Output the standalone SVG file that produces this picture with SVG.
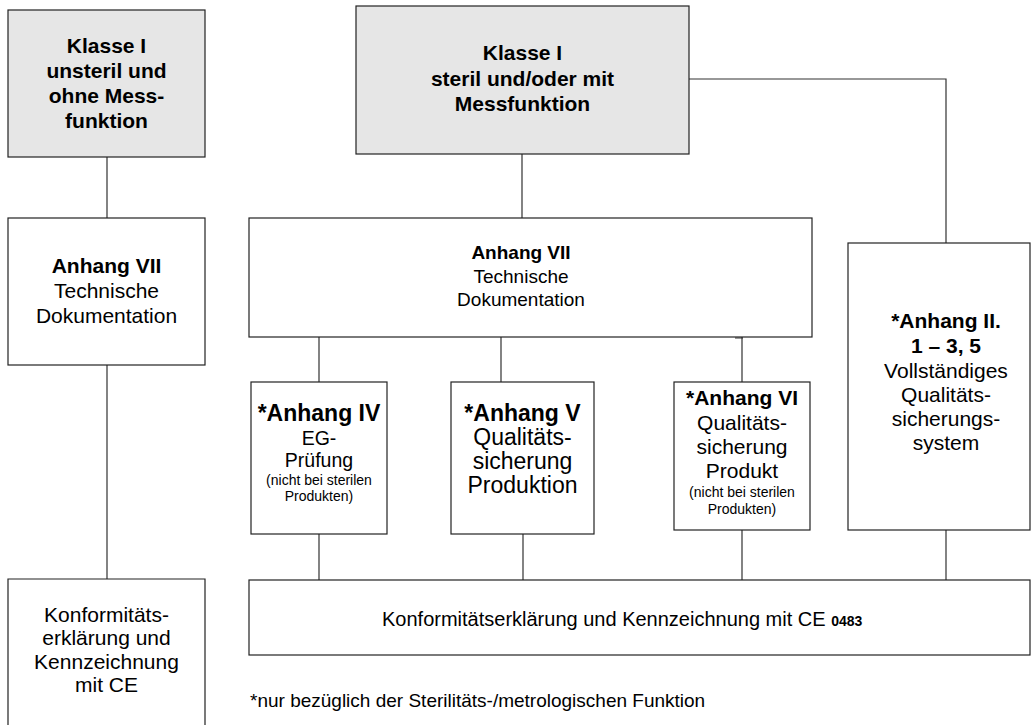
<svg xmlns="http://www.w3.org/2000/svg" width="1033" height="725" viewBox="0 0 1033 725">
<style>
.box{fill:#fff;stroke:#222;stroke-width:1.2}
.gray{fill:#e6e6e6;stroke:#222;stroke-width:1.2}
.ln{stroke:#333;stroke-width:1.2;fill:none}
text{font-family:"Liberation Sans",Arial,sans-serif;fill:#000;text-anchor:middle}
.b{font-weight:bold;font-size:21px}
.r{font-size:21px}
.s{font-size:14px}
</style>
<rect width="1033" height="725" fill="#fff"/>
<g id="connectors">
<path class="ln" d="M107 157V218M522 154V218M689 79H946V243M107 365V579M319 337V382M319 534V580M501 337V382M523 534V580M742 337V382M742 530V580M946 530V580M735 338H743"/>
</g>
<g id="klasse1-unsteril">
<rect class="gray" x="8" y="10" width="197" height="147"/>
<text class="b" x="106.5" y="53">Klasse I</text>
<text class="b" x="106.5" y="78">unsteril und</text>
<text class="b" x="106.5" y="103">ohne Mess-</text>
<text class="b" x="106.5" y="128">funktion</text>
</g>
<g id="klasse1-steril">
<rect class="gray" x="356" y="6" width="333" height="148"/>
<text class="b" x="522.5" y="60">Klasse I</text>
<text class="b" x="522.5" y="86">steril und/oder mit</text>
<text class="b" x="522.5" y="111">Messfunktion</text>
</g>
<g id="anhang7-left">
<rect class="box" x="8" y="218" width="197" height="147"/>
<text class="b" x="106.5" y="273">Anhang VII</text>
<text class="r" x="106.5" y="298">Technische</text>
<text class="r" x="106.5" y="323">Dokumentation</text>
</g>
<g id="anhang7-center">
<rect class="box" x="249" y="218" width="563" height="119"/>
<text class="b" x="521" y="259" style="font-size:19px">Anhang VII</text>
<text class="r" x="521" y="283" style="font-size:19px">Technische</text>
<text class="r" x="521" y="306" style="font-size:19px">Dokumentation</text>
</g>
<g id="anhang4">
<rect class="box" x="251" y="382" width="136" height="152"/>
<text class="b" x="319" y="421" style="font-size:23px">*Anhang IV</text>
<text class="r" x="319" y="445" style="font-size:19.5px">EG-</text>
<text class="r" x="319" y="467" style="font-size:19.5px">Prüfung</text>
<text class="s" x="319" y="485">(nicht bei sterilen</text>
<text class="s" x="319" y="501">Produkten)</text>
</g>
<g id="anhang5">
<rect class="box" x="451" y="382" width="143" height="152"/>
<text class="b" x="522.5" y="421" style="font-size:23px">*Anhang V</text>
<text class="r" x="522.5" y="445" style="font-size:23px">Qualitäts-</text>
<text class="r" x="522.5" y="469" style="font-size:23px">sicherung</text>
<text class="r" x="522.5" y="493" style="font-size:23px">Produktion</text>
</g>
<g id="anhang6">
<rect class="box" x="674" y="382" width="136" height="148"/>
<text class="b" x="742" y="405">*Anhang VI</text>
<text class="r" x="742" y="430">Qualitäts-</text>
<text class="r" x="742" y="454">sicherung</text>
<text class="r" x="742" y="478">Produkt</text>
<text class="s" x="742" y="497">(nicht bei sterilen</text>
<text class="s" x="742" y="514">Produkten)</text>
</g>
<g id="anhang2">
<rect class="box" x="848" y="243" width="182" height="287"/>
<text class="b" x="946" y="328">*Anhang II.</text>
<text class="b" x="946" y="353">1 – 3, 5</text>
<text class="r" x="946" y="378">Vollständiges</text>
<text class="r" x="946" y="402">Qualitäts-</text>
<text class="r" x="946" y="426">sicherungs-</text>
<text class="r" x="946" y="450">system</text>
</g>
<g id="konformitaet-left">
<path class="box" d="M8 740V579H205V740"/>
<text class="r" x="106.5" y="622">Konformitäts-</text>
<text class="r" x="106.5" y="645">erklärung und</text>
<text class="r" x="106.5" y="669">Kennzeichnung</text>
<text class="r" x="106.5" y="692">mit CE</text>
</g>
<g id="konformitaet-main">
<rect class="box" x="249" y="580" width="781" height="75"/>
<text x="382" y="626" style="text-anchor:start;font-size:20px">Konformitätserklärung und Kennzeichnung mit CE <tspan style="font-weight:bold;font-size:14px">0483</tspan></text>
</g>
<g id="footnote">
<text x="250" y="707" style="text-anchor:start;font-size:19px">*nur bezüglich der Sterilitäts-/metrologischen Funktion</text>
</g>
</svg>
